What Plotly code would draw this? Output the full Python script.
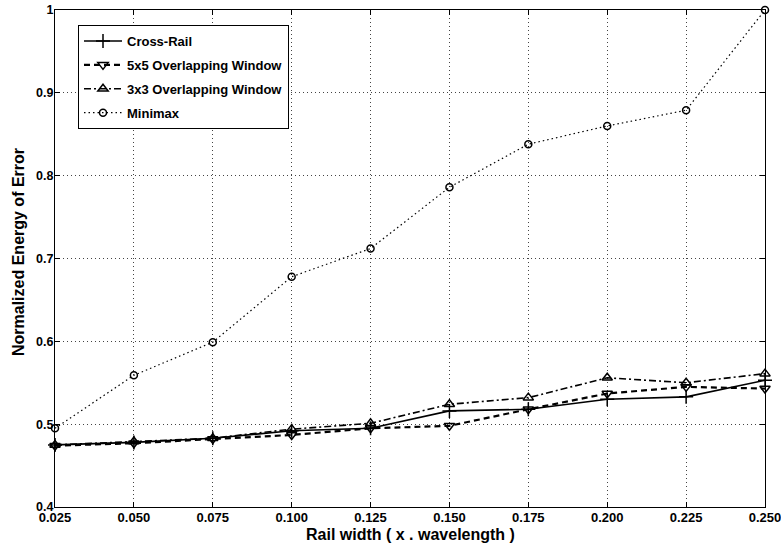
import plotly.graph_objects as go

rail_width = [0.025, 0.050, 0.075, 0.100, 0.125, 0.150, 0.175, 0.200, 0.225, 0.250]
cross_rail = [0.475, 0.478, 0.483, 0.492, 0.495, 0.516, 0.518, 0.530, 0.533, 0.553]
window_5x5 = [0.474, 0.477, 0.482, 0.487, 0.495, 0.498, 0.518, 0.537, 0.545, 0.543]
window_3x3 = [0.475, 0.479, 0.483, 0.494, 0.501, 0.524, 0.532, 0.556, 0.550, 0.561]
minimax = [0.495, 0.559, 0.599, 0.678, 0.712, 0.786, 0.838, 0.860, 0.879, 1.000]

x_ticks = [0.025, 0.050, 0.075, 0.100, 0.125, 0.150, 0.175, 0.200, 0.225, 0.250]
x_tick_labels = ["0.025", "0.050", "0.075", "0.100", "0.125", "0.150", "0.175", "0.200", "0.225", "0.250"]
y_ticks = [0.4, 0.5, 0.6, 0.7, 0.8, 0.9, 1.0]
y_tick_labels = ["0.4", "0.5", "0.6", "0.7", "0.8", "0.9", "1"]

FONT = "Arial, Liberation Sans, Helvetica, sans-serif"

fig = go.Figure()
series = [
    ("Cross-Rail", cross_rail, "solid", 1.6, "cross-thin-open", 10),
    ("5x5 Overlapping Window", window_5x5, "6px,4px", 2.2, "triangle-down-open", 9),
    ("3x3 Overlapping Window", window_3x3, "7px,3px,2px,3px", 1.6, "triangle-up-open", 9),
    ("Minimax", minimax, "1.5px,3px", 1.2, "circle-open", 7),
]
for i, (name, vals, dash, w, sym, sz) in enumerate(series):
    fig.add_trace(go.Scatter(
        x=rail_width, y=vals, name=name, mode="lines+markers",
        legendgroup=f"g{i}",
        line=dict(color="black", width=w, dash=dash),
        marker=dict(symbol=sym, size=sz, color="black", line=dict(color="black", width=1.5)),
        cliponaxis=False,
    ))

axis_common = dict(
    showline=True, linecolor="black", linewidth=1, mirror="ticks",
    ticks="inside", ticklen=5, tickcolor="black",
    showgrid=True, gridcolor="#444444", griddash="1px,3px", gridwidth=1,
    zeroline=False, ticklabeloverflow="allow", automargin=False,
    ticklabelstandoff=-2,
)

fig.update_xaxes(
    range=[0.025, 0.250], tickvals=x_ticks, ticktext=x_tick_labels,
    tickfont=dict(family=FONT, size=13, color="black", weight="bold"),
    **axis_common,
)
fig.update_yaxes(
    range=[0.4, 1.0], tickvals=y_ticks, ticktext=y_tick_labels,
    tickfont=dict(family=FONT, size=12.5, color="black", weight="bold"),
    **axis_common,
)

PLOT_W, PLOT_H = 710, 497
fig.add_annotation(
    text="Rail width ( x . wavelength )", xref="paper", yref="paper",
    x=0.5, y=-27 / PLOT_H, xanchor="center", yanchor="middle", showarrow=False,
    font=dict(family=FONT, size=16, color="black", weight="bold"),
)
fig.add_annotation(
    text="Normalized Energy of Error", xref="paper", yref="paper",
    x=-36 / PLOT_W, y=(507 - 252) / PLOT_H, xanchor="center", yanchor="middle",
    showarrow=False, textangle=-90,
    font=dict(family=FONT, size=16, color="black", weight="bold"),
)

fig.update_layout(
    width=781, height=548,
    margin=dict(l=55, r=16, t=10, b=41),
    plot_bgcolor="white", paper_bgcolor="white",
    font=dict(family=FONT, color="black"),
    legend=dict(
        x=23 / PLOT_W, y=(507 - 25) / PLOT_H, xanchor="left", yanchor="top",
        bgcolor="white", bordercolor="black", borderwidth=1,
        font=dict(family=FONT, size=13, color="black", weight="bold"),
        tracegroupgap=4, itemwidth=38,
    ),
)

fig.write_html("out.html", config={"displayModeBar": False},
               post_script="document.body.style.margin='0';")
